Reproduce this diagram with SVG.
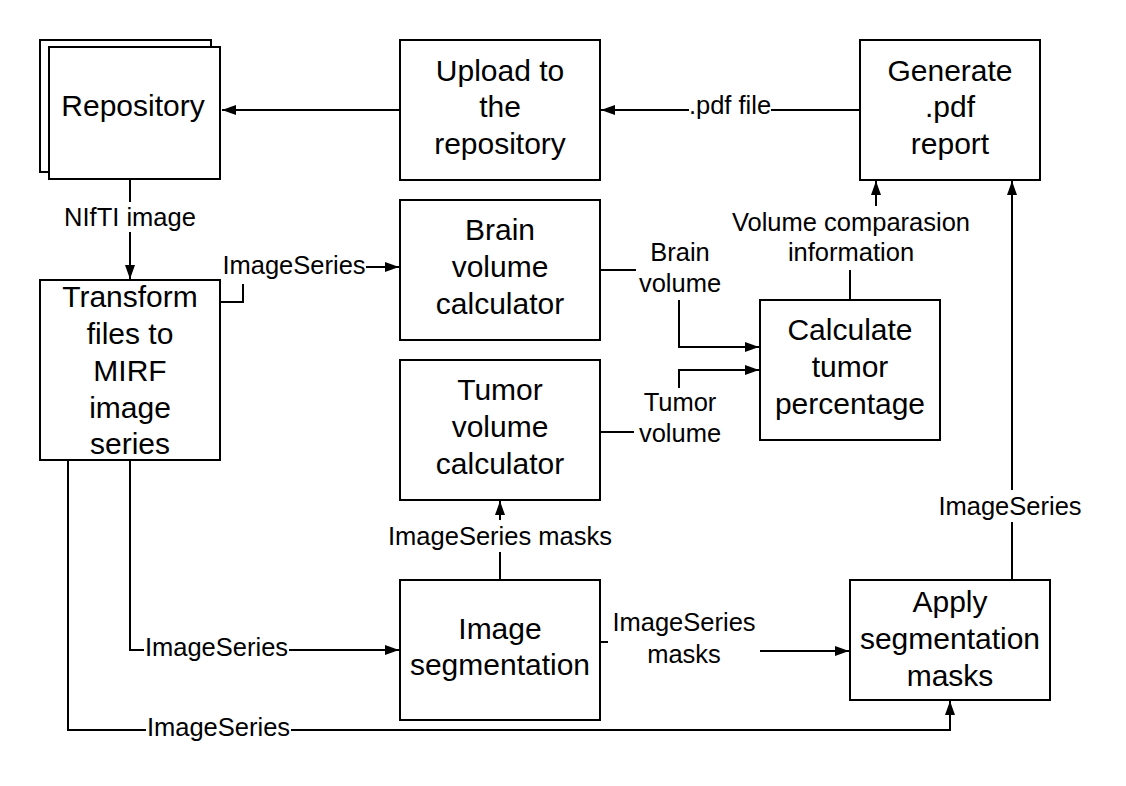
<svg xmlns="http://www.w3.org/2000/svg" width="1126" height="786" viewBox="0 0 1126 786">
<style>
.box{fill:#fff;stroke:#000;stroke-width:2}
.bt{font-family:"Liberation Sans",Arial,sans-serif;font-size:30px;text-anchor:middle;fill:#000}
.lt{font-family:"Liberation Sans",Arial,sans-serif;font-size:25.5px;text-anchor:middle;fill:#000}
.c{fill:none;stroke:#000;stroke-width:2}
.a{marker-end:url(#ah)}
.bg{fill:#fff;stroke:none}
</style>
<defs>
<marker id="ah" markerUnits="userSpaceOnUse" markerWidth="15" markerHeight="11" refX="14" refY="5" orient="auto">
<path d="M0,0 L14,5 L0,10 z" fill="#000"/>
</marker>
</defs>
<rect width="1126" height="786" fill="#fff"/>
<g id="connectors">
<path class="c a" d="M400,110 L222,110"/>
<path class="c a" d="M860,110 L601,110"/>
<path class="c a" d="M130,180 L130,279"/>
<path class="c a" d="M221,302 L243,302 L243,267 L399,267"/>
<path class="c a" d="M601,270 L679,270 L679,347 L759,347"/>
<path class="c a" d="M601,432 L679,432 L679,370 L759,370"/>
<path class="c a" d="M850,300 L850,215 L876,215 L876,181"/>
<path class="c a" d="M1012,580 L1012,181"/>
<path class="c a" d="M500,580 L500,501"/>
<path class="c a" d="M601,642 L684,642 L684,651 L849,651"/>
<path class="c a" d="M130,460 L130,650 L399,650"/>
<path class="c a" d="M68,460 L68,730 L950,730 L950,701"/>
<g id="labels">
<rect class="bg" x="689" y="94" width="82" height="26"/>
<text class="lt" x="730" y="114">.pdf file</text>
<rect class="bg" x="62" y="202" width="136" height="30"/>
<text class="lt" x="130" y="226">NIfTI image</text>
<rect class="bg" x="222" y="252" width="144" height="32"/>
<text class="lt" x="294" y="274">ImageSeries</text>
<rect class="bg" x="636" y="236" width="88" height="64"/>
<text class="lt" x="680" y="261">Brain</text>
<text class="lt" x="680" y="292">volume</text>
<rect class="bg" x="634" y="388" width="92" height="60"/>
<text class="lt" x="680" y="411">Tumor</text>
<text class="lt" x="680" y="442">volume</text>
<rect class="bg" x="726" y="206" width="252" height="64"/>
<text class="lt" x="851" y="231">Volume comparasion</text>
<text class="lt" x="851" y="261">information</text>
<rect class="bg" x="935" y="490" width="150" height="32"/>
<text class="lt" x="1010" y="515">ImageSeries</text>
<rect class="bg" x="382" y="520" width="236" height="32"/>
<text class="lt" x="500" y="545">ImageSeries masks</text>
<rect class="bg" x="608" y="605" width="152" height="65"/>
<text class="lt" x="684" y="631">ImageSeries</text>
<text class="lt" x="684" y="663">masks</text>
<rect class="bg" x="144" y="632" width="145" height="30"/>
<text class="lt" x="216.5" y="656">ImageSeries</text>
<rect class="bg" x="146" y="712" width="145" height="30"/>
<text class="lt" x="218.5" y="736">ImageSeries</text>
</g>
</g>
<g id="repository">
<rect class="box" x="40" y="40" width="171" height="132"/>
<rect class="box" x="49" y="47" width="171" height="132"/>
<text class="bt" x="133" y="116">Repository</text>
</g>
<g id="upload">
<rect class="box" x="400" y="40" width="200" height="140"/>
<text class="bt" x="500" y="81">Upload to</text>
<text class="bt" x="500" y="117">the</text>
<text class="bt" x="500" y="154">repository</text>
</g>
<g id="generate">
<rect class="box" x="860" y="40" width="180" height="140"/>
<text class="bt" x="950" y="81">Generate</text>
<text class="bt" x="950" y="117">.pdf</text>
<text class="bt" x="950" y="154">report</text>
</g>
<g id="brain">
<rect class="box" x="400" y="200" width="200" height="140"/>
<text class="bt" x="500" y="240">Brain</text>
<text class="bt" x="500" y="277">volume</text>
<text class="bt" x="500" y="314">calculator</text>
</g>
<g id="transform">
<rect class="box" x="40" y="280" width="180" height="180"/>
<text class="bt" x="130" y="307">Transform</text>
<text class="bt" x="130" y="344">files to</text>
<text class="bt" x="130" y="381">MIRF</text>
<text class="bt" x="130" y="418">image</text>
<text class="bt" x="130" y="454">series</text>
</g>
<g id="calculate">
<rect class="box" x="760" y="300" width="180" height="140"/>
<text class="bt" x="850" y="340">Calculate</text>
<text class="bt" x="850" y="377">tumor</text>
<text class="bt" x="850" y="414">percentage</text>
</g>
<g id="tumor">
<rect class="box" x="400" y="360" width="200" height="140"/>
<text class="bt" x="500" y="400">Tumor</text>
<text class="bt" x="500" y="437">volume</text>
<text class="bt" x="500" y="474">calculator</text>
</g>
<g id="segmentation">
<rect class="box" x="400" y="580" width="200" height="140"/>
<text class="bt" x="500" y="639">Image</text>
<text class="bt" x="500" y="675">segmentation</text>
</g>
<g id="apply">
<rect class="box" x="850" y="580" width="200" height="120"/>
<text class="bt" x="950" y="612">Apply</text>
<text class="bt" x="950" y="649">segmentation</text>
<text class="bt" x="950" y="686">masks</text>
</g>
</svg>
